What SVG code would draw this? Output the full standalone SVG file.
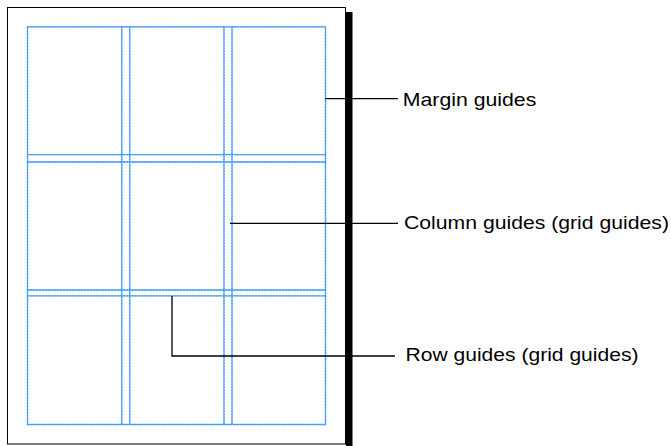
<svg xmlns="http://www.w3.org/2000/svg" width="671" height="446" viewBox="0 0 671 446">
<style>
.guide{fill:none;stroke:#45b0ff;stroke-width:1.3}
.guidedot{fill:none;stroke:#4d7cff;stroke-width:1.3;stroke-dasharray:1 2}
.leader{fill:none;stroke:#000;stroke-width:1.3}
.lbl{font-family:"Liberation Sans",Arial,sans-serif;font-size:18.5px;fill:#000}
</style>
<rect width="671" height="446" fill="#fff"/>
<g id="page">
<rect x="346" y="12" width="6.5" height="440" fill="#000"/>
<rect x="7.5" y="7.5" width="338" height="436.5" fill="#fff" stroke="#000" stroke-width="1"/>
</g>
<g id="margin-guides">
<rect class="guide" x="27.5" y="26.8" width="298" height="397.7"/>
<rect class="guidedot" x="27.5" y="26.8" width="298" height="397.7"/>
</g>
<g id="column-guides">
<path class="guide" d="M121.7 26.8V424.5M129.7 26.8V424.5M224 26.8V424.5M232 26.8V424.5"/>
<path class="guidedot" d="M121.7 26.8V424.5M129.7 26.8V424.5M224 26.8V424.5M232 26.8V424.5"/>
</g>
<g id="row-guides">
<path class="guide" d="M27.5 154.7H325.5M27.5 162H325.5M27.5 290H325.5M27.5 295.8H325.5"/>
<path class="guidedot" d="M27.5 154.7H325.5M27.5 162H325.5M27.5 290H325.5M27.5 295.8H325.5"/>
</g>
<g id="connectors">
<path class="leader" d="M325 98.7H398"/>
<path class="leader" d="M230 223.3H398"/>
<path class="leader" d="M172 296V356H395"/>
</g>
<g id="label-margin"><text class="lbl" x="402.8" y="105.7" textLength="133.5" lengthAdjust="spacingAndGlyphs">Margin guides</text></g>
<g id="label-column"><text class="lbl" x="404" y="228.5" textLength="265" lengthAdjust="spacingAndGlyphs">Column guides (grid guides)</text></g>
<g id="label-row"><text class="lbl" x="405.5" y="360.7" textLength="233" lengthAdjust="spacingAndGlyphs">Row guides (grid guides)</text></g>
</svg>
